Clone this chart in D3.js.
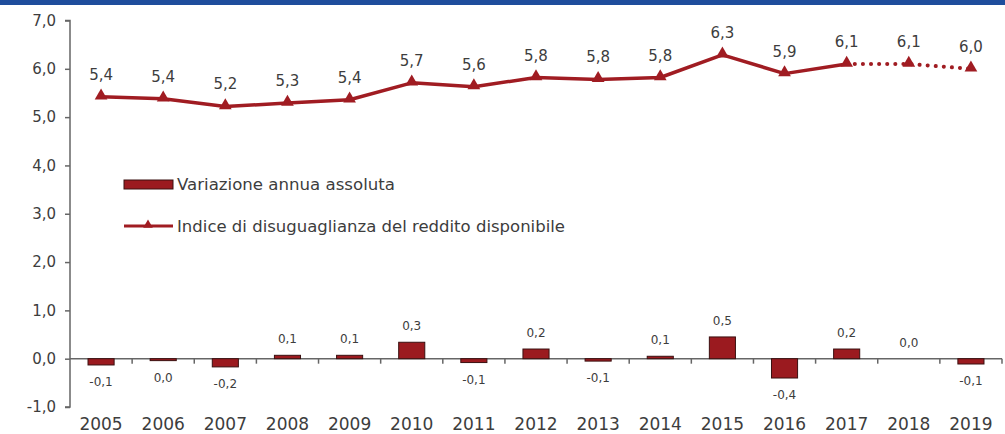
<!DOCTYPE html>
<html>
<head>
<meta charset="utf-8">
<script src="https://cdn.jsdelivr.net/npm/d3@7"></script>
<style>
  body { margin: 0; background: #fff; }
  text { font-family: "DejaVu Sans", sans-serif; fill: #3d3d3d; }
</style>
</head>
<body>
<div id="chart"></div>
<script>
// Data
const years = ["2005","2006","2007","2008","2009","2010","2011","2012","2013","2014","2015","2016","2017","2018","2019"];
const indexValues = [5.42, 5.38, 5.22, 5.29, 5.36, 5.71, 5.63, 5.82, 5.78, 5.82, 6.29, 5.9, 6.1, 6.1, 6.0];
const indexLabels = ["5,4","5,4","5,2","5,3","5,4","5,7","5,6","5,8","5,8","5,8","6,3","5,9","6,1","6,1","6,0"];
const changeValues = [-0.13, -0.04, -0.17, 0.07, 0.07, 0.34, -0.08, 0.2, -0.05, 0.05, 0.45, -0.4, 0.2, 0.0, -0.11];
const changeLabels = ["-0,1","0,0","-0,2","0,1","0,1","0,3","-0,1","0,2","-0,1","0,1","0,5","-0,4","0,2","0,0","-0,1"];
const yTicks = [-1, 0, 1, 2, 3, 4, 5, 6, 7];
const seriesNames = ["Variazione annua assoluta", "Indice di disuguaglianza del reddito disponibile"];
const lastSolid = 12; // 2017: after this the line is dotted

const W = 1005, H = 434;
const red = "#a01c22";

const svg = d3.select("#chart").append("svg")
  .attr("width", W).attr("height", H);

// Blue strip on top
svg.append("rect").attr("x", 0).attr("y", 0).attr("width", W).attr("height", 5)
  .attr("fill", "#1f4d9c");

const x = d3.scaleBand().domain(years).range([70, 1002]).paddingInner(0.58).paddingOuter(0.29);
const xStep = d3.scaleBand().domain(years).range([70, 1002]);
const y = d3.scaleLinear().domain([-1, 7]).range([407, 20.5]);
const cx = d => xStep(d) + xStep.bandwidth() / 2;

// Y axis
const yAxis = svg.append("g").attr("transform", "translate(70,0)")
  .call(d3.axisLeft(y).tickValues(yTicks).tickSize(5).tickPadding(9)
    .tickFormat(d => d3.format(".1f")(d).replace(".", ",").replace("−", "-")));
yAxis.selectAll("path, line").attr("stroke", "#666").attr("stroke-width", 1.5);
yAxis.select("path").attr("d", `M-5,${y(7)}H0V${y(-1)}H-5`);
yAxis.selectAll("text").style("font-size", "15px").attr("fill", "#3d3d3d");

// Zero line with ticks at band boundaries
const zeroAxis = svg.append("g").attr("transform", `translate(0,${y(0)})`);
zeroAxis.append("line").attr("x1", 70).attr("x2", 1002)
  .attr("stroke", "#666").attr("stroke-width", 1.5);
zeroAxis.selectAll(".bt").data(years).enter().append("line")
  .attr("x1", d => xStep(d) + xStep.bandwidth()).attr("x2", d => xStep(d) + xStep.bandwidth())
  .attr("y1", 0).attr("y2", 5).attr("stroke", "#666").attr("stroke-width", 1.5);

// X labels
svg.selectAll(".xl").data(years).enter().append("text")
  .attr("x", d => cx(d)).attr("y", 430)
  .attr("text-anchor", "middle").style("font-size", "17px").text(d => d);

// Bars
svg.selectAll(".bar").data(changeValues).enter().append("rect")
  .attr("x", (d, i) => x(years[i]))
  .attr("width", x.bandwidth())
  .attr("y", d => y(Math.max(0, d)))
  .attr("height", d => Math.abs(y(d) - y(0)))
  .attr("fill", "#9b1a1f").attr("stroke", "#3a1010").attr("stroke-width", 1);

svg.selectAll(".bl").data(changeValues).enter().append("text")
  .attr("x", (d, i) => cx(years[i]))
  .attr("y", d => d >= 0 ? y(d) - 12 : y(d) + 21)
  .attr("text-anchor", "middle").style("font-size", "12px")
  .text((d, i) => changeLabels[i]);

// Line (solid part, then dotted projection)
const pts = indexValues.map((v, i) => [cx(years[i]), y(v)]);
const line = d3.line();
svg.append("path").attr("d", line(pts.slice(0, lastSolid + 1)))
  .attr("fill", "none").attr("stroke", red).attr("stroke-width", 3.5).attr("stroke-linejoin", "round");
svg.append("path").attr("d", line(pts.slice(lastSolid)))
  .attr("fill", "none").attr("stroke", red).attr("stroke-width", 4)
  .attr("stroke-linecap", "round").attr("stroke-dasharray", "0.1 8");

const tri = d3.symbol().type(d3.symbolTriangle).size(70);
svg.selectAll(".mk").data(pts).enter().append("path")
  .attr("d", tri).attr("transform", d => `translate(${d[0]},${d[1] - 1})`)
  .attr("fill", red);

svg.selectAll(".ll").data(indexValues).enter().append("text")
  .attr("x", (d, i) => cx(years[i]))
  .attr("y", d => y(d) - 17)
  .attr("text-anchor", "middle").style("font-size", "15px")
  .text((d, i) => indexLabels[i]);

// Legend
const lg = svg.append("g");
lg.append("rect").attr("x", 124).attr("y", 180).attr("width", 49).attr("height", 9)
  .attr("fill", "#9b1a1f").attr("stroke", "#3a1010").attr("stroke-width", 1);
lg.append("text").attr("x", 177).attr("y", 190).style("font-size", "15px")
  .attr("textLength", 218).attr("lengthAdjust", "spacingAndGlyphs").text(seriesNames[0]);
lg.append("line").attr("x1", 124).attr("x2", 173).attr("y1", 226).attr("y2", 226)
  .attr("stroke", red).attr("stroke-width", 3);
lg.append("path").attr("d", d3.symbol().type(d3.symbolTriangle).size(40))
  .attr("transform", "translate(148,225)").attr("fill", red);
lg.append("text").attr("x", 177).attr("y", 232).style("font-size", "15px")
  .attr("textLength", 388).attr("lengthAdjust", "spacingAndGlyphs").text(seriesNames[1]);
</script>
</body>
</html>
